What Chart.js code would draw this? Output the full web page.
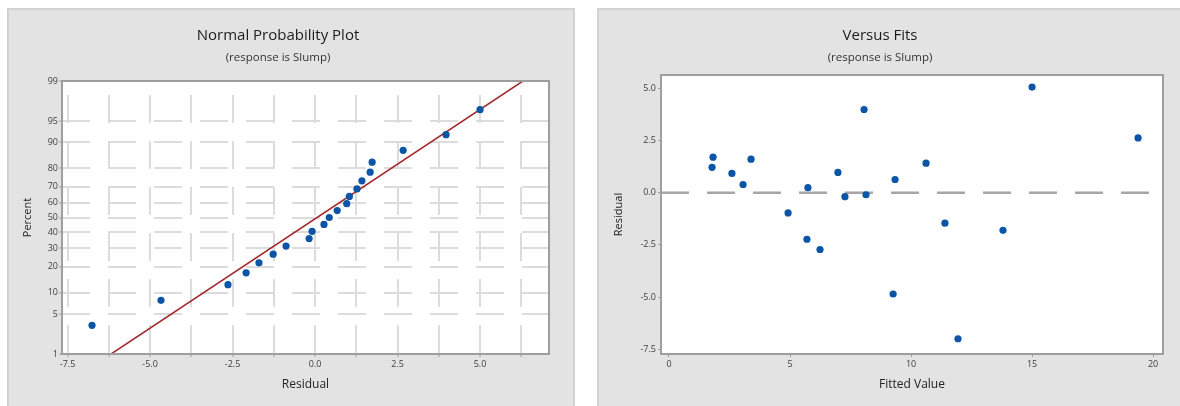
<!DOCTYPE html>
<html>
<head>
<meta charset="utf-8">
<script src="https://cdn.jsdelivr.net/npm/chart.js@4"></script>
<style>
  html, body { margin: 0; padding: 0; background: #fff; width: 1180px; height: 406px; overflow: hidden; position: relative; }
  .panel { position: absolute; top: 8px; height: 410px; background: #e3e3e3; border: 2px solid #d2d2d2; box-sizing: border-box; }
  #panelL { left: 7px; width: 568px; }
  #panelR { left: 597px; width: 600px; }
  canvas { position: absolute; }
</style>
</head>
<body>
<div class="panel" id="panelL"></div>
<div class="panel" id="panelR"></div>
<canvas id="probPlot" width="567" height="398" style="left:7px;top:8px"></canvas>
<canvas id="fitsPlot" width="592" height="398" style="left:597px;top:8px"></canvas>
<script>
// --- normal probability plot (left) ---
const probResiduals = [-6.76, -4.67, -2.64, -2.09, -1.70, -1.27, -0.88, -0.18, -0.09, 0.27, 0.43,
                       0.67, 0.96, 1.04, 1.27, 1.42, 1.67, 1.73, 2.67, 3.97, 5.0];
const probPercents = [3.3, 7.9, 12.6, 17.3, 22.0, 26.6, 31.3, 36.0, 40.7, 45.3, 50.0,
                      54.7, 59.3, 64.0, 68.7, 73.4, 78.0, 82.7, 87.4, 92.1, 96.7];
const fitLineResiduals = [-6.18, 6.3];
const fitLinePercents = [1, 99];
const percentTicks = [1, 5, 10, 20, 30, 40, 50, 60, 70, 80, 90, 95, 99];
const residualTicks = [-7.5, -6.25, -5, -3.75, -2.5, -1.25, 0, 1.25, 2.5, 3.75, 5, 6.25];

// --- versus fits (right) ---
const fittedValues = [1.78, 1.82, 2.6, 3.06, 3.39, 4.92, 5.7, 5.74, 6.24, 6.98, 7.27,
                      8.06, 8.14, 9.26, 9.34, 10.62, 11.4, 11.94, 13.8, 15.0, 19.38];
const fitsResiduals = [1.21, 1.70, 0.92, 0.39, 1.60, -0.97, -2.23, 0.24, -2.72, 0.97, -0.19,
                       3.98, -0.10, -4.85, 0.63, 1.41, -1.46, -6.99, -1.80, 5.05, 2.62];
const fittedTicks = [0, 5, 10, 15, 20];
const fitsResidualTicks = [-7.5, -5, -2.5, 0, 2.5, 5];

const FONT = "'Open Sans', 'Noto Sans', sans-serif";
const BLUE = '#0b55a6';
const TICK_COLOR = '#404040';

// inverse normal cdf (Acklam), used to put percents on the probability scale
function probit(p) {
    const a = [-3.969683028665376e+01, 2.209460984245205e+02, -2.759285104469687e+02, 1.383577518672690e+02, -3.066479806614716e+01, 2.506628277459239e+00];
    const b = [-5.447609879822406e+01, 1.615858368580409e+02, -1.556989798598866e+02, 6.680131188771972e+01, -1.328068155288572e+01];
    const c = [-7.784894002430293e-03, -3.223964580411365e-01, -2.400758277161838e+00, -2.549732539343734e+00, 4.374664141464968e+00, 2.938163982698783e+00];
    const d = [7.784695709041462e-03, 3.224671290700398e-01, 2.445134137142996e+00, 3.754408661907416e+00];
    const pl = 0.02425;
    let q, r;
    if (p < pl) {
        q = Math.sqrt(-2 * Math.log(p));
        return (((((c[0]*q+c[1])*q+c[2])*q+c[3])*q+c[4])*q+c[5]) / ((((d[0]*q+d[1])*q+d[2])*q+d[3])*q+1);
    }
    if (p > 1 - pl) {
        q = Math.sqrt(-2 * Math.log(1 - p));
        return -(((((c[0]*q+c[1])*q+c[2])*q+c[3])*q+c[4])*q+c[5]) / ((((d[0]*q+d[1])*q+d[2])*q+d[3])*q+1);
    }
    q = p - 0.5;
    r = q * q;
    return (((((a[0]*r+a[1])*r+a[2])*r+a[3])*r+a[4])*r+a[5])*q / (((((b[0]*r+b[1])*r+b[2])*r+b[3])*r+b[4])*r+1);
}

// white plot area with a grey frame
const plotFrame = {
    id: 'plotFrame',
    beforeDraw(chart) {
        const {ctx, chartArea: a} = chart;
        ctx.save();
        ctx.fillStyle = '#fff';
        ctx.fillRect(a.left, a.top, a.width, a.height);
        ctx.restore();
    },
    afterDraw(chart) {
        const {ctx, chartArea: a} = chart;
        ctx.save();
        ctx.strokeStyle = '#9e9e9e';
        ctx.lineWidth = 2;
        ctx.strokeRect(a.left, a.top, a.width, a.height);
        ctx.restore();
    }
};

const titleOpts = (text) => ({
    display: true, text, color: '#1c1c1c',
    font: {family: FONT, size: 15, weight: 'normal'},
    padding: {top: 18.5, bottom: 2}
});
const subtitleOpts = (bottom) => ({
    display: true, text: '(response is Slump)', color: '#333',
    font: {family: FONT, size: 11.5, weight: 'normal'},
    padding: {top: 4, bottom}
});
const tickFont = {family: FONT, size: 9};
const axisTitleFont = {family: FONT, size: 12};

// left chart
new Chart(document.getElementById('probPlot'), {
    type: 'scatter',
    data: {
        datasets: [{
            data: probResiduals.map((x, i) => ({x, y: probit(probPercents[i] / 100)})),
            backgroundColor: BLUE,
            borderColor: BLUE,
            pointRadius: 3.6,
            pointBorderWidth: 0,
            pointHoverRadius: 3.6
        }, {
            type: 'line',
            data: fitLineResiduals.map((x, i) => ({x, y: probit(fitLinePercents[i] / 100)})),
            borderColor: '#a3282c',
            borderWidth: 1.5,
            pointRadius: 0,
            fill: false
        }]
    },
    options: {
        responsive: false,
        animation: false,
        devicePixelRatio: 1,
        events: [],
        layout: {padding: {left: 0, right: 25, top: 0, bottom: 0}},
        plugins: {
            legend: {display: false},
            tooltip: {enabled: false},
            title: titleOpts('Normal Probability Plot'),
            subtitle: subtitleOpts(16.7)
        },
        scales: {
            x: {
                type: 'linear',
                min: -7.67,
                max: 7.09,
                afterBuildTicks: s => { s.ticks = residualTicks.map(v => ({value: v})); },
                afterFit: s => { s.height = 52; },
                ticks: {
                    autoSkip: false, maxRotation: 0, padding: 2, font: tickFont, color: TICK_COLOR,
                    callback: v => Math.abs(v / 2.5 - Math.round(v / 2.5)) < 1e-9 ? v.toFixed(1) : ''
                },
                grid: {color: '#dcdcdc', lineWidth: 2, tickLength: 3, tickColor: '#9e9e9e', tickWidth: 1},
                border: {display: false, dash: [28, 18], dashOffset: 32},
                title: {display: true, text: 'Residual', color: '#222', font: axisTitleFont, padding: {top: 0, bottom: 13.8}}
            },
            y: {
                type: 'linear',
                min: probit(0.01),
                max: probit(0.99),
                afterBuildTicks: s => { s.ticks = percentTicks.map(p => ({value: probit(p / 100)})); },
                afterFit: s => { s.width = 55; },
                ticks: {
                    autoSkip: false, padding: 1, font: tickFont, color: TICK_COLOR,
                    callback: (v, i) => String(percentTicks[i])
                },
                grid: {color: '#dcdcdc', lineWidth: 2, tickLength: 3, tickColor: '#9e9e9e', tickWidth: 1},
                border: {display: false, dash: [28, 18], dashOffset: 0},
                title: {display: true, text: 'Percent', color: '#222', font: {family: FONT, size: 11}, padding: {top: 14.4, bottom: 0}}
            }
        }
    },
    plugins: [plotFrame]
});

// right chart
const fitsXMin = -0.33, fitsXMax = 20.41;
new Chart(document.getElementById('fitsPlot'), {
    type: 'scatter',
    data: {
        datasets: [{
            data: fittedValues.map((x, i) => ({x, y: fitsResiduals[i]})),
            backgroundColor: BLUE,
            borderColor: BLUE,
            pointRadius: 3.6,
            pointBorderWidth: 0,
            pointHoverRadius: 3.6
        }, {
            type: 'line',
            data: [{x: fitsXMin, y: 0}, {x: fitsXMax, y: 0}],
            borderColor: '#a6a6a6',
            borderWidth: 2.5,
            borderDash: [28, 18],
            pointRadius: 0,
            fill: false
        }]
    },
    options: {
        responsive: false,
        animation: false,
        devicePixelRatio: 1,
        events: [],
        layout: {padding: {left: 0, right: 26, top: 0, bottom: 0}},
        plugins: {
            legend: {display: false},
            tooltip: {enabled: false},
            title: titleOpts('Versus Fits'),
            subtitle: subtitleOpts(10.7)
        },
        scales: {
            x: {
                type: 'linear',
                min: fitsXMin,
                max: fitsXMax,
                afterBuildTicks: s => { s.ticks = fittedTicks.map(v => ({value: v})); },
                afterFit: s => { s.height = 52; },
                ticks: {autoSkip: false, maxRotation: 0, padding: 2, font: tickFont, color: TICK_COLOR,
                        callback: v => String(v)},
                grid: {drawOnChartArea: false, tickLength: 3, tickColor: '#9e9e9e', tickWidth: 1},
                border: {display: false},
                title: {display: true, text: 'Fitted Value', color: '#222', font: axisTitleFont, padding: {top: 0, bottom: 13.8}}
            },
            y: {
                type: 'linear',
                min: -7.72,
                max: 5.63,
                afterBuildTicks: s => { s.ticks = fitsResidualTicks.map(v => ({value: v})); },
                afterFit: s => { s.width = 64; },
                ticks: {autoSkip: false, padding: 2, font: tickFont, color: TICK_COLOR,
                        callback: v => v.toFixed(1)},
                grid: {drawOnChartArea: false, tickLength: 3, tickColor: '#9e9e9e', tickWidth: 1},
                border: {display: false},
                title: {display: true, text: 'Residual', color: '#222', font: {family: FONT, size: 11}, padding: {top: 15.4, bottom: 0}}
            }
        }
    },
    plugins: [plotFrame]
});
</script>
</body>
</html>
